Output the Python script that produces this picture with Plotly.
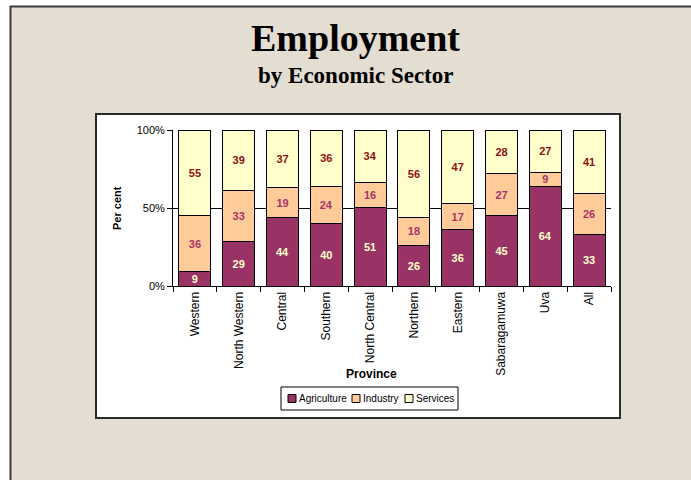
import plotly.graph_objects as go

# Employment share (%) by province and economic sector
provinces = ["Western", "North Western", "Central", "Southern", "North Central",
             "Northern", "Eastern", "Sabaragamuwa", "Uva", "All"]
agriculture = [9, 29, 44, 40, 51, 26, 36, 45, 64, 33]
industry = [36, 33, 19, 24, 16, 18, 17, 27, 9, 26]
services = [55, 39, 37, 36, 34, 56, 47, 28, 27, 41]
y_ticks = [0, 50, 100]
y_tick_labels = ["0%", "50%", "100%"]

W, H = 691, 480
BG = "#E4DDD1"
FONT = "Arial, Liberation Sans"


def px(x):
    return x / W


def py(y):
    return 1 - y / H


series = [
    ("Agriculture", agriculture, "#993366", "#FFFFCC"),
    ("Industry", industry, "#FFCC99", "#A8336A"),
    ("Services", services, "#FFFFCC", "#8E1010"),
]

fig = go.Figure()
for name, vals, fill, txt in series:
    fig.add_trace(go.Bar(
        name=name, x=provinces, y=vals,
        marker=dict(color=fill, line=dict(color="#000000", width=1)),
        text=[str(v) for v in vals], texttemplate="%{text}",
        textposition="inside", insidetextanchor="middle", textangle=0,
        textfont=dict(family=FONT, size=11, color=txt, weight="bold"),
        constraintext="none", hoverinfo="skip", showlegend=False,
    ))

shapes = [
    # slide frame: white strip and dark rule along top and left
    dict(type="rect", xref="paper", yref="paper", x0=0, x1=1, y0=py(6), y1=1,
         fillcolor="#FFFFFF", line=dict(width=0), layer="below"),
    dict(type="rect", xref="paper", yref="paper", x0=0, x1=px(10), y0=0, y1=1,
         fillcolor="#FFFFFF", line=dict(width=0), layer="below"),
    dict(type="line", xref="paper", yref="paper", x0=px(10), x1=1, y0=py(6.5), y1=py(6.5),
         line=dict(color="#3A3A3A", width=2), layer="below"),
    dict(type="line", xref="paper", yref="paper", x0=px(10.5), x1=px(10.5), y0=0, y1=py(6),
         line=dict(color="#3A3A3A", width=2), layer="below"),
    # white chart panel
    dict(type="rect", xref="paper", yref="paper", x0=px(96), x1=px(620), y0=py(418), y1=py(114),
         fillcolor="#FFFFFF", line=dict(color="#2A2A2A", width=2), layer="below"),
    # legend frame
    dict(type="rect", xref="paper", yref="paper", x0=px(281), x1=px(458), y0=py(410), y1=py(387),
         fillcolor="#FFFFFF", line=dict(color="#000000", width=1)),
]

annotations = [
    dict(text="<b>Employment</b>", x=px(355), y=py(38), xref="paper", yref="paper",
         showarrow=False, xanchor="center", yanchor="middle",
         font=dict(family="Liberation Serif, Times New Roman", size=38, color="#000000")),
    dict(text="<b>by Economic Sector</b>", x=px(355), y=py(75), xref="paper", yref="paper",
         showarrow=False, xanchor="center", yanchor="middle",
         font=dict(family="Liberation Serif, Times New Roman", size=23, color="#000000")),
    dict(text="<b>Per cent</b>", x=px(117), y=py(208), xref="paper", yref="paper",
         showarrow=False, textangle=-90, xanchor="center", yanchor="middle",
         font=dict(family=FONT, size=11, color="#000000")),
    dict(text="<b>Province</b>", x=px(372), y=py(374), xref="paper", yref="paper",
         showarrow=False, xanchor="center", yanchor="middle",
         font=dict(family=FONT, size=12, color="#000000")),
]

# legend entries: swatch + label, laid out left to right
legend_x = [288, 352, 405]
for (name, _, fill, _), lx in zip(series, legend_x):
    shapes.append(dict(type="rect", xref="paper", yref="paper",
                       x0=px(lx), x1=px(lx + 8), y0=py(402.5), y1=py(394.5),
                       fillcolor=fill, line=dict(color="#000000", width=1)))
    annotations.append(dict(text=name, x=px(lx + 9), y=py(398.5), xref="paper", yref="paper",
                            showarrow=False, xanchor="left", yanchor="middle",
                            font=dict(family=FONT, size=10, color="#000000")))

fig.update_layout(
    width=W, height=H,
    margin=dict(l=0, r=0, t=0, b=0),
    paper_bgcolor=BG, plot_bgcolor="#FFFFFF",
    barmode="stack", barnorm="percent", bargap=0.27,
    showlegend=False,
    shapes=shapes, annotations=annotations,
    xaxis=dict(domain=[px(173), px(611)], showline=True, linecolor="#000000", linewidth=1,
               ticks="outside", tickson="boundaries", ticklen=5, tickcolor="#000000",
               tickangle=-90, automargin=False,
               tickfont=dict(family=FONT, size=12, color="#000000")),
    yaxis=dict(domain=[py(286), py(130)], range=[0, 100], tickvals=y_ticks, ticktext=y_tick_labels,
               showline=True, linecolor="#000000", linewidth=1,
               ticks="outside", ticklen=5, tickcolor="#000000",
               showgrid=True, gridcolor="#000000", gridwidth=1, zeroline=False, automargin=False,
               tickfont=dict(family=FONT, size=11, color="#000000")),
    uniformtext=dict(minsize=10, mode="show"),
)

fig.write_html("out.html")
